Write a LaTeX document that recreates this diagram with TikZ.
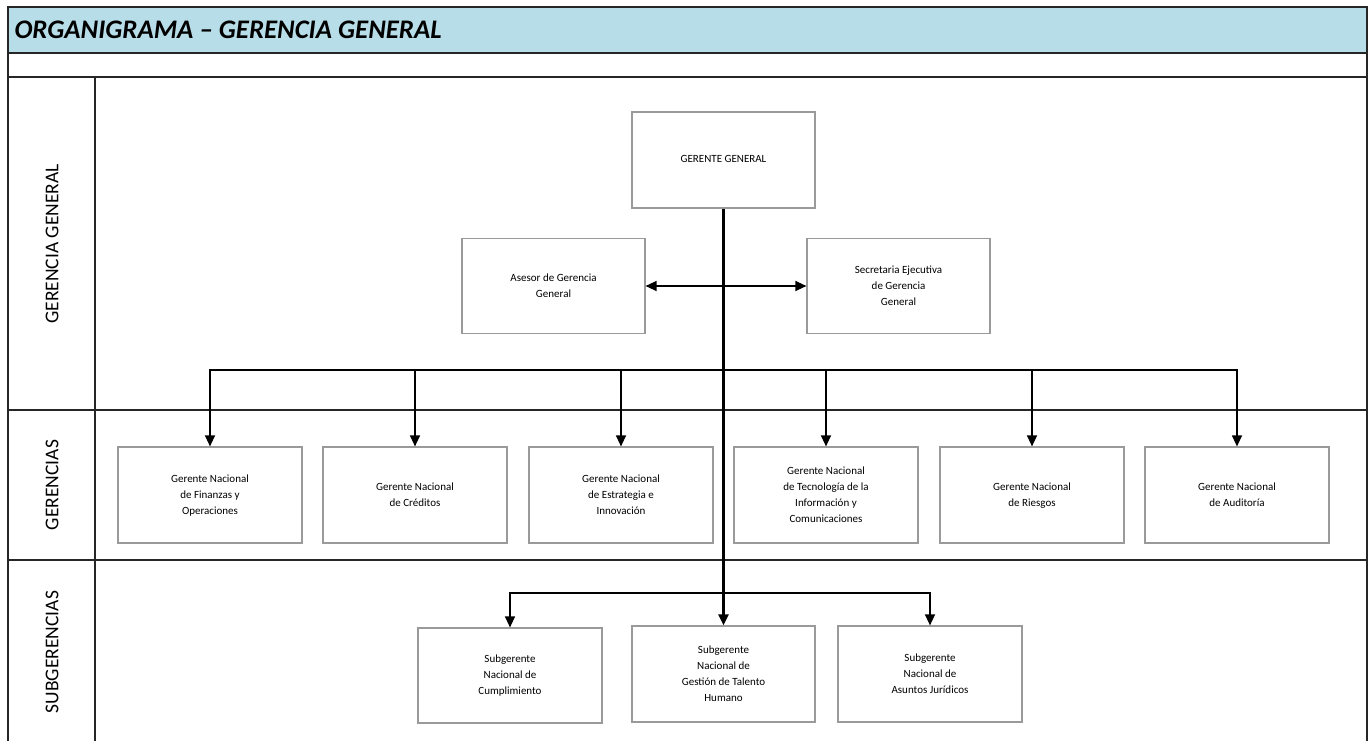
\documentclass[tikz,border=0pt]{standalone}
\usepackage{fontspec}
\setmainfont{Carlito}
\usetikzlibrary{arrows.meta}

\definecolor{titleblue}{HTML}{B7DDE8}
\definecolor{boxgray}{HTML}{9A9A9A}

% lines of a box, lifted a bit above the middle
\newcommand{\boxlines}[1]{\raisebox{7pt}{\begin{tabular}{@{}c@{}}#1\end{tabular}}}

\begin{document}
\begin{tikzpicture}[
        x=1pt, y=-1pt,
        orgbox/.style={
            draw=boxgray,
            line width=1.2pt,
            fill=white,
            minimum width=184pt,
            minimum height=96pt,
            inner sep=0pt,
            font=\fontsize{11}{16}\selectfont
        },
        lane/.style={line width=1.4pt, draw=black!85},
        lanelabel/.style={rotate=90, font=\fontsize{19.5}{21}\selectfont},
        conn/.style={line width=1.3pt, -{Triangle[length=11pt,width=10pt]}},
        trunk/.style={line width=2.2pt, -{Triangle[length=11pt,width=10pt]}}
    ]

    % (0,0) at top left, one unit = one pixel
    \useasboundingbox (0,0) rectangle (1371,741);

    % --- frame and lanes ---
    \fill[titleblue] (8,7) rectangle (1367,53);
    \draw[lane] (8,745) -- (8,7) -- (1367,7) -- (1367,745);
    \draw[lane] (8,53) -- (1367,53);
    \draw[lane] (8,77) -- (1367,77);
    \draw[lane] (8,410) -- (1367,410);
    \draw[lane] (8,560) -- (1367,560);
    \draw[lane] (95,77) -- (95,745);

    \node[anchor=west, font=\fontsize{26.8}{28}\selectfont\bfseries\itshape]
        (title) at (11,30) {ORGANIGRAMA -- GERENCIA GENERAL};

    \node[lanelabel] (lanegg)  at (52,244) {GERENCIA GENERAL};
    \node[lanelabel] (lanegr)  at (52,485) {GERENCIAS};
    \node[lanelabel] (lanesub) at (52,652) {SUBGERENCIAS};

    % --- gerencia general ---
    \node[orgbox, minimum width=183pt] (gg) at (723.5,160) {\boxlines{GERENTE GENERAL}};
    \node[orgbox, minimum width=183pt, minimum height=95pt] (asesor) at (553.5,286)
        {\boxlines{Asesor de Gerencia\\General}};
    \node[orgbox, minimum width=183pt, minimum height=95pt] (secre) at (898.5,286)
        {\boxlines{Secretaria Ejecutiva\\de Gerencia\\General}};

    % --- gerencias (name, x, text) ---
    \def\gerenciasdata{%
        {g1/210/{Gerente Nacional\\de Finanzas y\\Operaciones}},
        {g2/415/{Gerente Nacional\\de Créditos}},
        {g3/621/{Gerente Nacional\\de Estrategia e\\Innovación}},
        {g4/826/{Gerente Nacional\\de Tecnología de la\\Información y\\Comunicaciones}},
        {g5/1032/{Gerente Nacional\\de Riesgos}},
        {g6/1237/{Gerente Nacional\\de Auditoría}}%
    }
    \foreach \name/\x/\txt in \gerenciasdata {
        \node[orgbox] (\name) at (\x,495) {\boxlines{\txt}};
    }

    % --- subgerencias ---
    \node[orgbox, minimum height=95pt] (sub1) at (510,675.5)
        {\boxlines{Subgerente\\Nacional de\\Cumplimiento}};
    \node[orgbox, minimum width=183pt] (sub2) at (723.5,674)
        {\boxlines{Subgerente\\Nacional de\\Gestión de Talento\\Humano}};
    \node[orgbox] (sub3) at (930,674)
        {\boxlines{Subgerente\\Nacional de\\Asuntos Jurídicos}};

    % --- connectors ---
    \coordinate (busgr)  at (723.5,370);
    \coordinate (bussub) at (723.5,593);

    \draw[trunk] (gg.south) -- (sub2.north);
    \draw[line width=1.3pt, {Triangle[length=11pt,width=10pt]}-{Triangle[length=11pt,width=10pt]}]
        (asesor.east) -- (secre.west);

    \foreach \name in {g1,g2,g3,g4,g5,g6} {
        \draw[conn] (busgr) -| (\name.north);
    }
    \draw[conn] (bussub) -| (sub1.north);
    \draw[conn] (bussub) -| (sub3.north);

\end{tikzpicture}
\end{document}
